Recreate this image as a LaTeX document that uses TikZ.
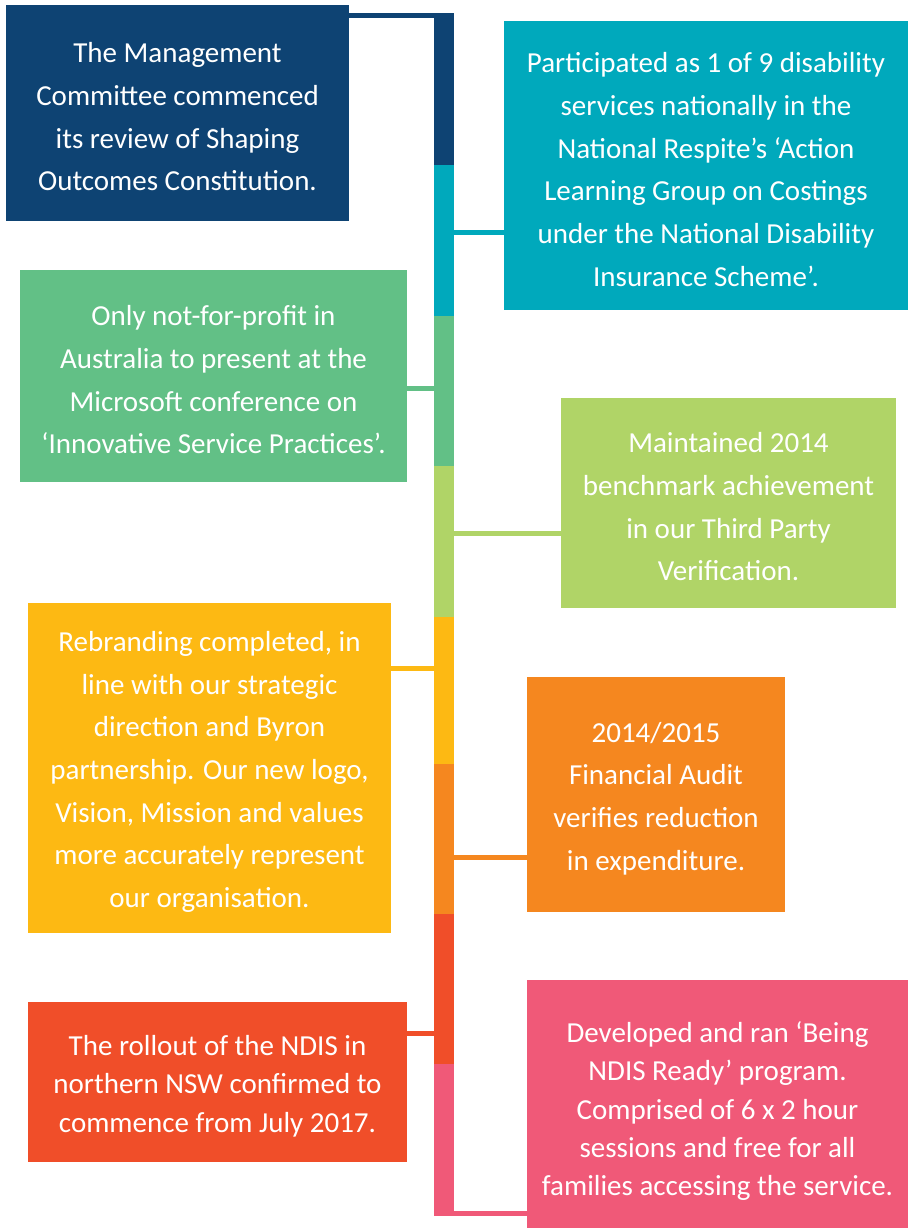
\documentclass[tikz,border=0pt]{standalone}
\usepackage{fontspec}
\setmainfont{Carlito}
\definecolor{navyblue}{HTML}{0E4373}
\definecolor{tealblue}{HTML}{00A9BC}
\definecolor{leafgreen}{HTML}{62C086}
\definecolor{limegreen}{HTML}{B0D467}
\definecolor{sunyellow}{HTML}{FDB913}
\definecolor{amberorange}{HTML}{F5871F}
\definecolor{brickred}{HTML}{F04E29}
\definecolor{rosepink}{HTML}{F05978}
\newcommand{\toplift}{\rule{0pt}{28pt}}
\tikzstyle{event}=[inner sep=0pt, align=center, text=white, font=\fontsize{29}{42.7}\selectfont]
\tikzstyle{tight event}=[event, font=\fontsize{29}{38.4}\selectfont]
\tikzstyle{segment}=[inner sep=0pt, minimum width=20pt]
\tikzstyle{link}=[line width=5pt]

\begin{document}
\begin{tikzpicture}[x=1pt, y=-1pt]
  \useasboundingbox (0,0) rectangle (909,1228);
  % the spine, one piece per year event
  \node[segment, fill=navyblue, minimum height=151pt] (seg1) at (444,89.5) {};
  \node[segment, fill=tealblue, minimum height=151pt] (seg2) at (444,240.5) {};
  \node[segment, fill=leafgreen, minimum height=150pt] (seg3) at (444,391) {};
  \node[segment, fill=limegreen, minimum height=151pt] (seg4) at (444,541.5) {};
  \node[segment, fill=sunyellow, minimum height=147pt] (seg5) at (444,690.5) {};
  \node[segment, fill=amberorange, minimum height=150pt] (seg6) at (444,839) {};
  \node[segment, fill=brickred, minimum height=150pt] (seg7) at (444,989) {};
  \node[segment, fill=rosepink, minimum height=152pt] (seg8) at (444,1140) {};

  \node[event, fill=navyblue, minimum width=343pt, minimum height=216pt] (review) at (177.5,113)
    {\toplift The Management\\Committee commenced\\its review of Shaping\\Outcomes Constitution.};
  \node[event, fill=tealblue, minimum width=404pt, minimum height=289pt] (respite) at (706,165.5)
    {\toplift Participated as 1 of 9 disability\\services nationally in the\\National Respite’s ‘Action\\Learning Group on Costings\\under the National Disability\\Insurance Scheme’.};
  \node[event, fill=leafgreen, minimum width=387pt, minimum height=212pt] (microsoft) at (213.5,376)
    {\toplift Only not-for-profit in\\Australia to present at the\\Microsoft conference on\\‘Innovative Service Practices’.};
  \node[event, fill=limegreen, minimum width=335pt, minimum height=210pt] (benchmark) at (728.5,503)
    {\toplift Maintained 2014\\benchmark achievement\\in our Third Party\\Verification.};
  \node[event, fill=sunyellow, minimum width=363pt, minimum height=330pt] (rebrand) at (209.5,768)
    {\toplift Rebranding completed, in\\line with our strategic\\direction and Byron\\partnership. Our new logo,\\Vision, Mission and values\\more accurately represent\\our organisation.};
  \node[event, fill=amberorange, minimum width=258pt, minimum height=235pt] (audit) at (656,794.5)
    {\toplift 2014/2015\\Financial Audit\\verifies reduction\\in expenditure.};
  \node[tight event, fill=brickred, minimum width=379pt, minimum height=160pt] (rollout) at (217.5,1082)
    {\toplift The rollout of the NDIS in\\northern NSW confirmed to\\commence from July 2017.};
  % runs past the page foot
  \node[tight event, fill=rosepink, minimum width=381pt, minimum height=255pt] (ready) at (717.5,1107.5)
    {\toplift Developed and ran ‘Being\\NDIS Ready’ program.\\Comprised of 6 x 2 hour\\sessions and free for all\\families accessing the service.};

  % links from the spine
  \draw[link, navyblue] (review.east |- 0,15.5) -- (seg1.east |- 0,15.5);
  \draw[link, tealblue] (seg2.east |- 0,232) -- (respite.west |- 0,232);
  \draw[link, leafgreen] (microsoft.east |- 0,388) -- (seg3.west |- 0,388);
  \draw[link, limegreen] (seg4.east |- 0,533) -- (benchmark.west |- 0,533);
  \draw[link, sunyellow] (rebrand.east |- 0,668.5) -- (seg5.west |- 0,668.5);
  \draw[link, amberorange] (seg6.east |- 0,857) -- (audit.west |- 0,857);
  \draw[link, brickred] (rollout.east |- 0,1033) -- (seg7.west |- 0,1033);
  \draw[link, rosepink] (seg8.west |- 0,1213.5) -- (ready.west |- 0,1213.5);
\end{tikzpicture}
\end{document}
